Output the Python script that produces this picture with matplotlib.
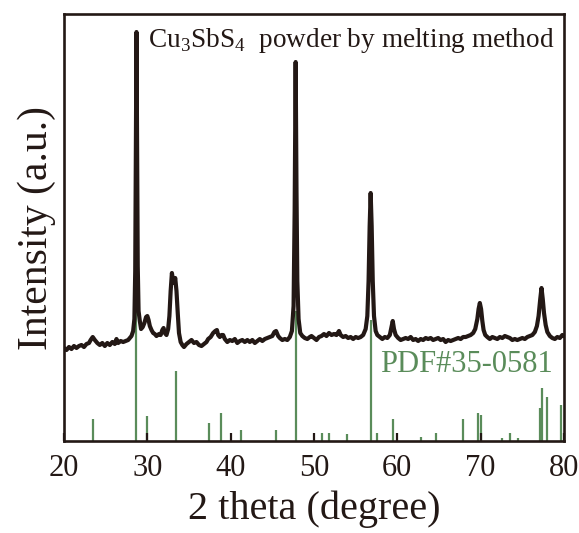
import numpy as np
import matplotlib
matplotlib.use("Agg")
import matplotlib.pyplot as plt

plt.rcParams['font.family'] = ['Liberation Serif', 'DejaVu Serif']
plt.rcParams['mathtext.fontset'] = 'custom'
plt.rcParams['mathtext.rm'] = 'Liberation Serif'

# measured XRD pattern (2 theta, intensity a.u.)
two_theta = [
    20.0, 20.3, 20.6, 20.9, 21.2, 21.5, 21.8, 22.1, 22.4, 22.7, 23.0, 23.2, 23.45, 23.7,
    24.0, 24.3, 24.6, 24.9, 25.2, 25.5, 25.8, 26.1, 26.3, 26.5, 26.8, 27.1, 27.4, 27.7,
    27.9, 28.1, 28.3, 28.45, 28.55, 28.63, 28.7, 28.77, 28.85, 28.95, 29.1, 29.25, 29.45,
    29.65, 29.85, 30.0, 30.15, 30.3, 30.5, 30.7, 30.9, 31.1, 31.4, 31.6, 31.8, 31.95, 32.1,
    32.3, 32.5, 32.65, 32.8, 32.95, 33.1, 33.2, 33.35, 33.5, 33.65, 33.8, 34.0, 34.2, 34.4,
    34.7, 35.0, 35.3, 35.6, 35.9, 36.2, 36.5, 36.8, 37.1, 37.3, 37.6, 37.9, 38.15, 38.35,
    38.5, 38.7, 38.9, 39.1, 39.3, 39.6, 39.9, 40.2, 40.5, 40.8, 41.1, 41.4, 41.7, 42.0,
    42.3, 42.6, 42.9, 43.2, 43.5, 43.8, 44.1, 44.4, 44.7, 45.0, 45.25, 45.45, 45.7, 45.9,
    46.2, 46.5, 46.8, 47.1, 47.35, 47.55, 47.68, 47.8, 47.9, 48.0, 48.15, 48.35, 48.6,
    48.9, 49.2, 49.5, 49.7, 50.0, 50.3, 50.6, 50.9, 51.2, 51.5, 51.8, 52.1, 52.4, 52.7,
    53.0, 53.2, 53.5, 53.8, 54.1, 54.4, 54.7, 55.0, 55.3, 55.6, 55.9, 56.2, 56.4, 56.55,
    56.68, 56.8, 56.92, 57.05, 57.2, 57.4, 57.6, 57.9, 58.2, 58.5, 58.8, 59.1, 59.3, 59.45,
    59.6, 59.8, 60.1, 60.4, 60.7, 61.0, 61.3, 61.6, 61.9, 62.2, 62.5, 62.8, 63.1, 63.4,
    63.7, 64.0, 64.3, 64.6, 64.9, 65.2, 65.5, 65.8, 66.1, 66.4, 66.7, 67.0, 67.3, 67.6,
    67.9, 68.2, 68.5, 68.8, 69.1, 69.35, 69.6, 69.75, 69.9, 70.05, 70.2, 70.35, 70.55,
    70.8, 71.1, 71.4, 71.7, 72.0, 72.3, 72.6, 72.9, 73.2, 73.5, 73.8, 74.1, 74.4, 74.7,
    75.0, 75.3, 75.6, 75.9, 76.2, 76.5, 76.75, 76.95, 77.15, 77.3, 77.45, 77.6, 77.8,
    78.0, 78.3, 78.6, 78.9, 79.2, 79.5, 79.8, 80.0,
]
intensity = [
    93, 91, 94, 92, 95, 93, 95, 96, 94, 97, 98, 101, 104, 101,
    98, 96, 98, 95, 98, 96, 99, 97, 102, 98, 100, 99, 100, 101,
    103, 105, 110, 122, 170, 290, 409, 290, 175, 130, 120, 112, 114,
    118, 124, 125, 121, 115, 111, 108, 107, 105, 107, 106, 111, 113, 108,
    106, 112, 125, 150, 168, 160, 158, 163, 150, 128, 108, 99, 96, 94,
    97, 99, 101, 98, 99, 96, 95, 97, 99, 102, 104, 108, 110, 111,
    106, 104, 106, 106, 102, 99, 101, 100, 102, 98, 100, 101, 99, 101,
    99, 101, 98, 100, 102, 100, 102, 103, 104, 105, 109, 110, 105, 103,
    101, 102, 101, 104, 110, 135, 230, 379, 250, 160, 122, 108, 105,
    103, 102, 104, 105, 103, 101, 104, 105, 107, 105, 108, 106, 107, 106,
    110, 106, 104, 105, 103, 104, 102, 104, 103, 104, 106, 112, 125, 160,
    215, 248, 215, 160, 125, 110, 106, 104, 102, 104, 103, 106, 114, 120,
    112, 106, 103, 101, 102, 103, 102, 104, 101, 102, 100, 102, 101, 103,
    102, 103, 101, 102, 103, 101, 102, 99, 101, 100, 101, 102, 103, 102,
    104, 104, 105, 106, 108, 112, 122, 132, 138, 132, 120, 111, 106,
    104, 102, 104, 103, 102, 104, 103, 105, 104, 103, 101, 102, 101, 102,
    103, 102, 104, 105, 106, 109, 115, 125, 142, 153, 142, 128, 116,
    109, 105, 103, 102, 104, 103, 106, 105,
]

# reference pattern PDF#35-0581
ref_pos = [23.5, 28.7, 30.0, 33.4, 37.4, 38.9, 41.3, 45.5, 47.8, 51.0, 51.8, 54.0,
           56.8, 57.6, 59.5, 62.9, 64.7, 67.9, 69.7, 70.0, 72.5, 73.5, 74.5, 77.1,
           77.4, 77.9, 79.6]
ref_int = [22, 130, 25, 70, 18, 28, 11, 11, 130, 8, 8, 7,
           121, 8, 22, 4, 8, 22, 28, 26, 3, 8, 3, 33,
           53, 44, 36]

dark = '#231815'
green = '#5a8c5a'

fig = plt.figure(figsize=(5.79, 5.33), dpi=100)
ax = fig.add_axes([0.1105, 0.1726, 0.8636, 0.8011])

ax.vlines(ref_pos, 0, ref_int, color=green, lw=1.6, zorder=1)
ax.plot(two_theta, intensity, color=dark, lw=3.0, zorder=2)

ax.set_xlim(20, 80)
ax.set_ylim(0, 427)
ax.set_xticks([20, 30, 40, 50, 60, 70, 80])
ax.set_yticks([])
ax.tick_params(axis='x', direction='in', length=6, width=1.6, color=dark,
               labelsize=22, pad=9, labelcolor=dark)
for s in ax.spines.values():
    s.set_linewidth(1.9)
    s.set_color(dark)

ax.set_xlabel('2 theta (degree)', fontsize=29, color=dark, labelpad=6)
ax.set_ylabel('Intensity (a.u.)', fontsize=30, color=dark, labelpad=6)

ax.text(30.1, 394, r'Cu$_3$SbS$_4$  powder by melting method', fontsize=19.6,
        color=dark, ha='left', va='baseline')
ax.text(78.7, 69, 'PDF#35-0581', fontsize=22, color=green, ha='right', va='baseline')

fig.savefig('out.png', dpi=100)
